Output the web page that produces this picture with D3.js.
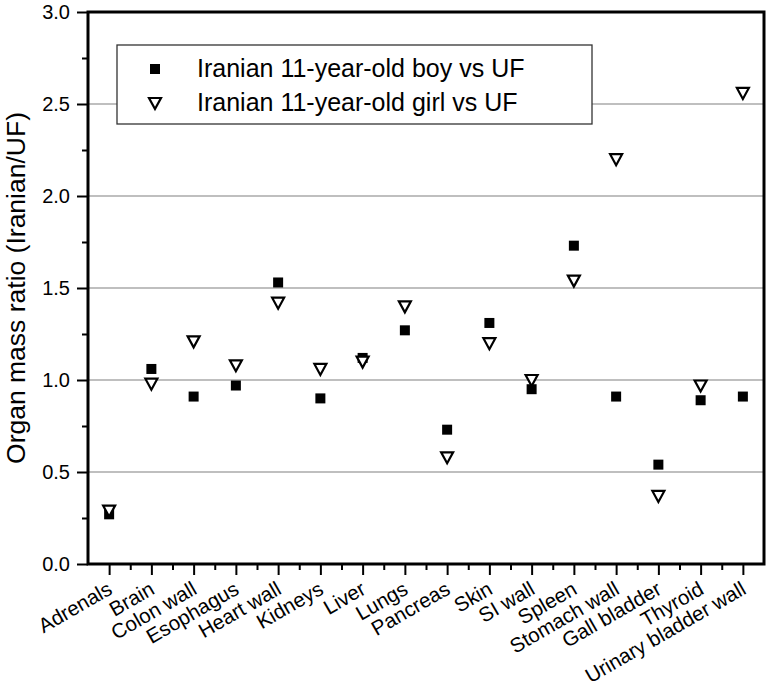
<!DOCTYPE html>
<html>
<head>
<meta charset="utf-8">
<script src="https://cdn.jsdelivr.net/npm/d3@7"></script>
<style>
  html, body { margin: 0; padding: 0; background: #fff; }
  svg { display: block; font-family: "Liberation Sans", Arial, sans-serif; }
</style>
</head>
<body>
<svg id="chart" width="768" height="690"></svg>
<script>
const categories = ["Adrenals", "Brain", "Colon wall", "Esophagus", "Heart wall", "Kidneys", "Liver", "Lungs", "Pancreas", "Skin", "SI wall", "Spleen", "Stomach wall", "Gall bladder", "Thyroid", "Urinary bladder wall"];
const boyValues  = [0.27, 1.06, 0.91, 0.97, 1.53, 0.90, 1.12, 1.27, 0.73, 1.31, 0.95, 1.73, 0.91, 0.54, 0.89, 0.91];
const girlValues = [0.29, 0.98, 1.21, 1.08, 1.42, 1.06, 1.10, 1.40, 0.58, 1.20, 1.00, 1.54, 2.20, 0.37, 0.97, 2.56];
const yTicks = [0, 0.5, 1.0, 1.5, 2.0, 2.5, 3.0];
const yMinorTicks = [0.25, 0.75, 1.25, 1.75, 2.25, 2.75];
const seriesNames = ["Iranian 11-year-old boy vs UF", "Iranian 11-year-old girl vs UF"];
const yTitle = "Organ mass ratio (Iranian/UF)";

const svg = d3.select("#chart");
const L = 88, R = 764, T = 12, B = 564;

const x = d3.scalePoint().domain(categories).range([L, R]).padding(0.5);
const xi = d3.scaleLinear().domain([-0.5, categories.length - 0.5]).range([L, R]);
const y = d3.scaleLinear().domain([0, 3]).range([B, T]);

// gridlines
svg.append("g").selectAll("line").data(yTicks.filter(v => v > 0 && v < 3)).join("line")
  .attr("x1", L).attr("x2", R).attr("y1", d => y(d)).attr("y2", d => y(d))
  .attr("stroke", "#808080").attr("stroke-width", 1.2);

// y axis major
const yAxis = d3.axisLeft(y).tickValues(yTicks).tickFormat(d3.format(".1f")).tickSize(11).tickPadding(7);
const gy = svg.append("g").attr("transform", `translate(${L},0)`).call(yAxis);
gy.select(".domain").remove();
gy.selectAll(".tick line").attr("stroke", "#000").attr("stroke-width", 2);
gy.selectAll(".tick text").attr("font-size", 20).attr("fill", "#000")
  .attr("font-family", "'Liberation Sans', Arial, sans-serif");
// y minor
const gym = svg.append("g").attr("transform", `translate(${L},0)`)
  .call(d3.axisLeft(y).tickValues(yMinorTicks).tickSize(6).tickFormat(""));
gym.select(".domain").remove();
gym.selectAll(".tick line").attr("stroke", "#000").attr("stroke-width", 2);

// x axis major
const xAxis = d3.axisBottom(x).tickSize(11).tickFormat(d => d);
const gx = svg.append("g").attr("transform", `translate(0,${B})`).call(xAxis);
gx.select(".domain").remove();
gx.selectAll(".tick line").attr("stroke", "#000").attr("stroke-width", 2);
gx.selectAll(".tick text")
  .attr("font-size", 20.5).attr("fill", "#000")
  .attr("font-family", "'Liberation Sans', Arial, sans-serif")
  .attr("text-anchor", "end")
  .attr("dy", null)
  .attr("y", 0)
  .attr("transform", "translate(4,29) rotate(-30)");
// x minor
const minorX = d3.range(0, categories.length - 1).map(i => i + 0.5);
const gxm = svg.append("g").attr("transform", `translate(0,${B})`)
  .call(d3.axisBottom(xi).tickValues(minorX).tickSize(6).tickFormat(""));
gxm.select(".domain").remove();
gxm.selectAll(".tick line").attr("stroke", "#000").attr("stroke-width", 2);

// frame
svg.append("rect").attr("x", L).attr("y", T).attr("width", R - L).attr("height", B - T)
  .attr("fill", "none").attr("stroke", "#000").attr("stroke-width", 3);

// y title
svg.append("text")
  .attr("transform", `translate(25,${(T + B) / 2}) rotate(-90)`)
  .attr("text-anchor", "middle")
  .attr("font-size", 26.5)
  .text(yTitle);

// markers
const tri = "M-6,-5L6,-5L0,6Z";
svg.append("g").selectAll("rect").data(categories).join("rect")
  .attr("x", (d, i) => x(d) - 5).attr("y", (d, i) => y(boyValues[i]) - 5)
  .attr("width", 10).attr("height", 10).attr("fill", "#000");
svg.append("g").selectAll("path").data(categories).join("path")
  .attr("d", tri)
  .attr("transform", (d, i) => `translate(${x(d)},${y(girlValues[i])})`)
  .attr("fill", "#fff").attr("stroke", "#000").attr("stroke-width", 2.2);

// legend
const lg = svg.append("g");
lg.append("rect").attr("x", 117).attr("y", 45).attr("width", 475).attr("height", 79)
  .attr("fill", "#fff").attr("stroke", "#333").attr("stroke-width", 1.3);
lg.append("rect").attr("x", 150).attr("y", 64).attr("width", 10).attr("height", 10).attr("fill", "#000");
lg.append("path").attr("d", tri).attr("transform", "translate(155,103)")
  .attr("fill", "#fff").attr("stroke", "#000").attr("stroke-width", 2.2);
lg.selectAll("text").data(seriesNames).join("text")
  .attr("x", 197).attr("y", (d, i) => 77 + i * 34)
  .attr("font-size", 25).text(d => d);
</script>
</body>
</html>
